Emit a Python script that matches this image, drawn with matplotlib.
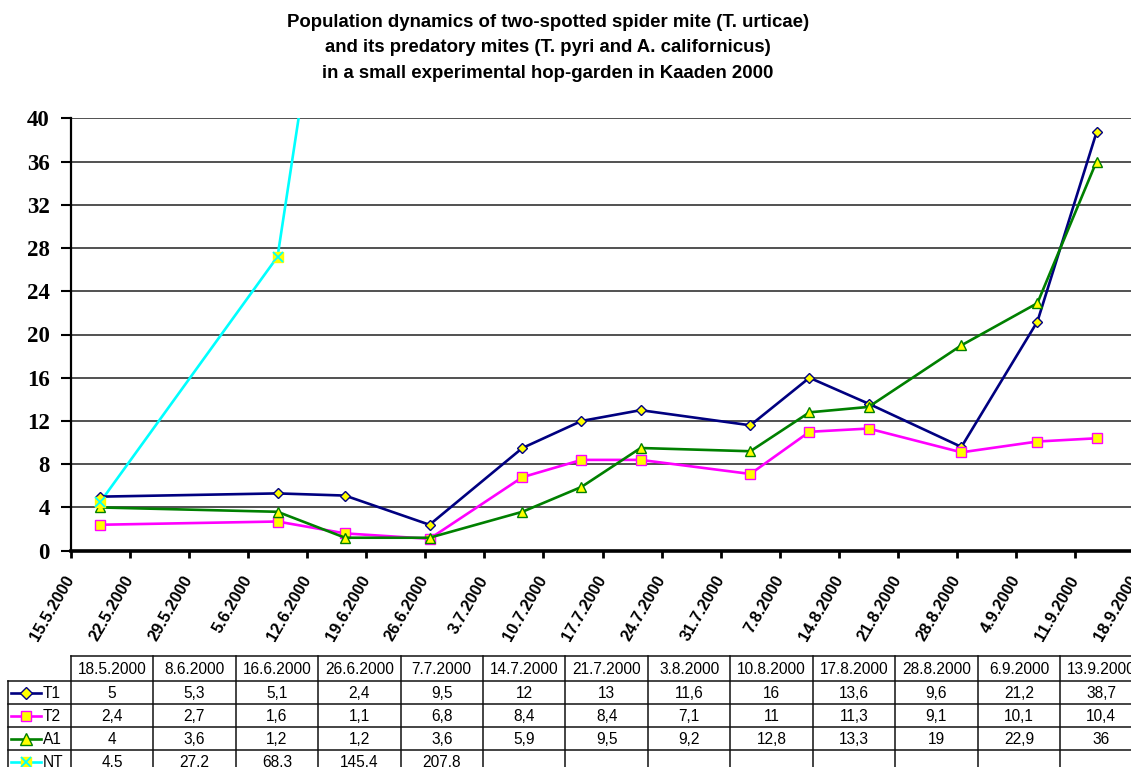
import matplotlib
matplotlib.use("Agg")
import matplotlib.pyplot as plt
from matplotlib.lines import Line2D
from datetime import date, timedelta

# ---------------- data ----------------
dates = ["18.5.2000", "8.6.2000", "16.6.2000", "26.6.2000", "7.7.2000",
         "14.7.2000", "21.7.2000", "3.8.2000", "10.8.2000", "17.8.2000",
         "28.8.2000", "6.9.2000", "13.9.2000"]
T1 = [5, 5.3, 5.1, 2.4, 9.5, 12, 13, 11.6, 16, 13.6, 9.6, 21.2, 38.7]
T2 = [2.4, 2.7, 1.6, 1.1, 6.8, 8.4, 8.4, 7.1, 11, 11.3, 9.1, 10.1, 10.4]
A1 = [4, 3.6, 1.2, 1.2, 3.6, 5.9, 9.5, 9.2, 12.8, 13.3, 19, 22.9, 36]
NT = [4.5, 27.2, 68.3, 145.4, 207.8]
series_names = ["T1", "T2", "A1", "NT"]
title = ("Population dynamics of two-spotted spider mite (T. urticae)\n"
         "and its predatory mites (T. pyri and A. californicus)\n"
         "in a small experimental hop-garden in Kaaden 2000")
axis_start = date(2000, 5, 15)
axis_end = date(2000, 9, 18)
yticks = list(range(0, 41, 4))

# ---------------- helpers ----------------
W, H = 1131, 767
fig = plt.figure(figsize=(W / 100, H / 100), dpi=100)


def fx(px):
    return px / W


def fy(py):
    return 1 - py / H


def parse(s):
    d, m, y = (int(v) for v in s.split("."))
    return date(y, m, d)


def dnum(dt):
    return (dt - axis_start).days


xs = [dnum(parse(s)) + 0.5 for s in dates]

styles = {
    "T1": dict(color="#000080", marker="D", ms=5.2, mfc="#FFFF00", mec="#000080"),
    "T2": dict(color="#FF00FF", marker="s", ms=6.5, mfc="#FFFF00", mec="#FF00FF"),
    "A1": dict(color="#008000", marker="^", ms=7.5, mfc="#FFFF00", mec="#008000"),
    "NT": dict(color="#00FFFF", marker="x", ms=7, mfc="#FFFF00", mec="#00FFFF"),
}

# ---------------- axes ----------------
ax_left, ax_right, ax_top, ax_bot = 70.7, 1134.5, 118.3, 550.7
ax = fig.add_axes([fx(ax_left), fy(ax_bot), fx(ax_right) - fx(ax_left), fy(ax_top) - fy(ax_bot)])

for name, vals in zip(series_names, [T1, T2, A1, NT]):
    st = styles[name]
    xx = xs[:len(vals)]
    if name == "NT":
        ax.plot(xx, vals, color=st["color"], lw=1.9, zorder=3)
        ax.plot(xx, vals, ls="none", marker="s", ms=6.5, mfc="#FFFF00", mec="#FFFF00", zorder=4)
        ax.plot(xx, vals, ls="none", marker="x", ms=7, mec=st["color"], mew=1.3, zorder=5)
    else:
        ax.plot(xx, vals, color=st["color"], lw=1.9, marker=st["marker"], ms=st["ms"],
                mfc=st["mfc"], mec=st["mec"], mew=1.0, zorder=4)

total_days = dnum(axis_end)
ax.set_xlim(0, total_days)
ax.set_ylim(0, 40)
ax.set_yticks(yticks)
ax.set_yticklabels([str(v) for v in yticks], fontfamily="Liberation Serif",
                   fontweight="bold", fontsize=16.5)
xt = list(range(0, total_days + 1, 7))
ax.set_xticks(xt)
xlabels = []
for d in xt:
    dt = axis_start + timedelta(days=d)
    xlabels.append(f"{dt.day}.{dt.month}.{dt.year}")
ax.set_xticklabels(xlabels, rotation=60, ha="right", va="center", rotation_mode="anchor",
                   fontfamily="Liberation Sans", fontweight="bold", fontsize=11.8)
ax.tick_params(axis="x", direction="out", length=5, width=2, pad=14)
ax.tick_params(axis="y", direction="out", length=7, width=1.5, pad=8)
for yv in yticks[1:]:
    ax.axhline(yv, color="#333333", lw=1.2, zorder=1)
ax.spines["top"].set_visible(False)
ax.spines["right"].set_visible(False)
ax.spines["left"].set_linewidth(1.6)
ax.spines["bottom"].set_linewidth(2.6)
ax.spines["left"].set_zorder(6)
ax.spines["bottom"].set_zorder(6)

# ---------------- title ----------------
fig.text(fx(548), fy(48), title, ha="center", va="center", fontsize=13.4,
         fontweight="bold", fontfamily="Liberation Sans", linespacing=1.62)

# ---------------- data table ----------------
col0_left, col1_left, colw = 8, 70.7, 82.45
ncol = len(dates)
tab_right = col1_left + ncol * colw
row_tops = [656, 681, 704, 727, 750, 773]
lc = "#111111"
lw_t = 1.1


def hline(y, x0, x1):
    fig.add_artist(Line2D([fx(x0), fx(x1)], [fy(y), fy(y)], color=lc, lw=lw_t))


def vline(x, y0, y1):
    fig.add_artist(Line2D([fx(x), fx(x)], [fy(y0), fy(y1)], color=lc, lw=lw_t))


hline(row_tops[0], col1_left, tab_right)
for y in row_tops[1:]:
    hline(y, col0_left, tab_right)
vline(col0_left, row_tops[1], row_tops[-1])
for i in range(ncol + 1):
    vline(col1_left + i * colw, row_tops[0], row_tops[-1])

tfont = dict(fontsize=11.2, fontfamily="Liberation Sans", ha="center", va="center")
for i, s in enumerate(dates):
    fig.text(fx(col1_left + (i + 0.5) * colw), fy((row_tops[0] + row_tops[1]) / 2 + 1), s, **tfont)

for r, (name, vals) in enumerate(zip(series_names, [T1, T2, A1, NT])):
    yc = (row_tops[r + 1] + row_tops[r + 2]) / 2 + 1
    for i, v in enumerate(vals):
        txt = f"{v:g}"
        if name != "NT":
            txt = txt.replace(".", ",")
        fig.text(fx(col1_left + (i + 0.5) * colw), fy(yc), txt, **tfont)
    st = styles[name]
    ykey = yc - 1
    fig.add_artist(Line2D([fx(11), fx(41)], [fy(ykey), fy(ykey)], color=st["color"], lw=1.9))
    if name == "NT":
        fig.add_artist(Line2D([fx(26)], [fy(ykey)], ls="none", marker="s", ms=7,
                              mfc="#FFFF00", mec="#FFFF00"))
        fig.add_artist(Line2D([fx(26)], [fy(ykey)], ls="none", marker="x", ms=7.5,
                              mec=st["color"], mew=1.3))
    else:
        fig.add_artist(Line2D([fx(26)], [fy(ykey)], ls="none", marker=st["marker"],
                              ms=st["ms"] * 1.15, mfc=st["mfc"], mec=st["mec"], mew=1.0))
    fig.text(fx(43), fy(yc), name, fontsize=11.2, fontfamily="Liberation Sans",
             ha="left", va="center")

fig.savefig("out.png", dpi=100)
